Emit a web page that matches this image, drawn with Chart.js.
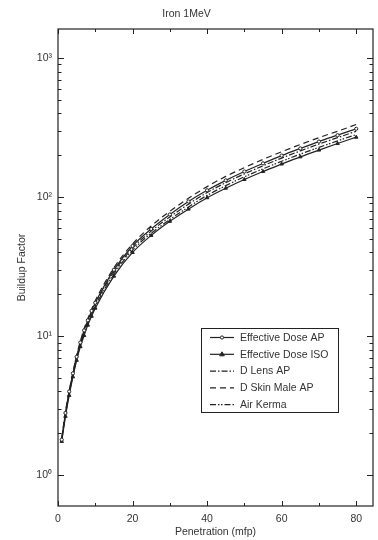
<!DOCTYPE html>
<html>
<head>
<meta charset="UTF-8">
<title>Iron 1MeV</title>
<script src="https://cdn.jsdelivr.net/npm/chart.js"></script>
<style>
  html, body { margin: 0; padding: 0; background: #fff; }
  #wrap { width: 378px; height: 540px; }
</style>
</head>
<body>
<div id="wrap"><canvas id="chart"></canvas></div>
<script>
// penetration depth (mfp)
const penetration = [1, 2, 3, 4, 5, 6, 7, 8, 9, 10, 15, 20, 25, 30, 35, 40, 45, 50, 55, 60, 65, 70, 75, 80];

// buildup factors
const effDoseAP  = [1.8, 2.8, 4.0, 5.4, 7.1, 9.0, 11.0, 13.0, 15.2, 17.4, 30, 44.5, 59, 75, 93, 112, 132, 153, 175, 199, 224, 251, 279, 310];
const effDoseISO = [1.75, 2.65, 3.75, 5.1, 6.7, 8.4, 10.1, 12.0, 13.9, 15.9, 27, 40, 53, 67, 82, 99, 116, 134, 153, 173, 195, 218, 243, 270];
const dLensAP    = [1.8, 2.75, 3.9, 5.3, 7.0, 8.8, 10.7, 12.7, 14.8, 17.0, 29, 43, 57, 72, 89, 108, 127, 147, 168, 191, 215, 241, 268, 298];
const dSkinMale  = [1.85, 2.85, 4.05, 5.5, 7.3, 9.2, 11.3, 13.4, 15.6, 18.0, 31, 46, 62, 79, 98, 119, 141, 163, 187, 212, 239, 268, 298, 333];
const airKerma   = [1.78, 2.7, 3.85, 5.2, 6.85, 8.6, 10.4, 12.3, 14.3, 16.4, 28, 41.5, 55, 69, 85, 103, 121, 140, 160, 181, 204, 228, 254, 282];

// axis ticks
const xTicks = [0, 20, 40, 60, 80];
const xMinorTicks = [10, 30, 50, 70];
const yDecades = [1, 10, 100, 1000];
const supers = { 1: '10\u2070', 10: '10\u00b9', 100: '10\u00b2', 1000: '10\u00b3' };

const ink = '#222';
const textColor = '#333';
const fontFamily = '"Liberation Sans", Arial, sans-serif';

function pts(ys) {
    return penetration.map((x, i) => ({ x: x, y: ys[i] }));
}

// inward ticks on all four sides + frame
const frameTicks = {
    id: 'frameTicks',
    afterDraw(chart) {
        const ctx = chart.ctx;
        const a = chart.chartArea;
        const xs = chart.scales.x, ys = chart.scales.y;
        ctx.save();
        ctx.strokeStyle = ink;
        ctx.lineWidth = 1.2;
        ctx.strokeRect(a.left, a.top, a.right - a.left, a.bottom - a.top);
        ctx.lineWidth = 1;
        ctx.beginPath();
        xTicks.concat(xMinorTicks).forEach(v => {
            const px = Math.round(xs.getPixelForValue(v)) + 0.5;
            const len = xTicks.includes(v) ? 5 : 3;
            ctx.moveTo(px, a.bottom); ctx.lineTo(px, a.bottom - len);
            ctx.moveTo(px, a.top); ctx.lineTo(px, a.top + len);
        });
        yDecades.forEach(d => {
            for (let m = 1; m <= 9; m++) {
                const v = d * m;
                if (v < ys.min || v > ys.max) continue;
                const py = Math.round(ys.getPixelForValue(v)) + 0.5;
                const len = m === 1 ? 6 : 3.5;
                ctx.moveTo(a.left, py); ctx.lineTo(a.left + len, py);
                ctx.moveTo(a.right, py); ctx.lineTo(a.right - len, py);
            }
        });
        ctx.stroke();
        ctx.restore();
    }
};

// boxed legend inside the plot
const boxLegend = {
    id: 'boxLegend',
    afterDraw(chart) {
        const ctx = chart.ctx;
        const x0 = 201, y0 = 328, w = 137, h = 84;
        ctx.save();
        ctx.fillStyle = '#fff';
        ctx.fillRect(x0, y0, w, h);
        ctx.strokeStyle = ink;
        ctx.lineWidth = 1;
        ctx.strokeRect(x0 + 0.5, y0 + 0.5, w, h);
        ctx.font = '10.5px ' + fontFamily;
        ctx.textBaseline = 'middle';
        chart.data.datasets.forEach((ds, i) => {
            const y = y0 + 9.5 + i * 16.8;
            ctx.strokeStyle = ds.borderColor;
            ctx.lineWidth = ds.borderWidth;
            ctx.setLineDash(ds.borderDash || []);
            ctx.beginPath();
            ctx.moveTo(x0 + 9, y);
            ctx.lineTo(x0 + 33, y);
            ctx.stroke();
            ctx.setLineDash([]);
            if (ds.pointRadius > 0) {
                ctx.fillStyle = ds.pointBackgroundColor;
                ctx.lineWidth = 1;
                ctx.beginPath();
                if (ds.pointStyle === 'triangle') {
                    ctx.moveTo(x0 + 21, y - 2.5);
                    ctx.lineTo(x0 + 23.3, y + 1.5);
                    ctx.lineTo(x0 + 18.7, y + 1.5);
                    ctx.closePath();
                } else {
                    ctx.arc(x0 + 21, y, 1.6, 0, Math.PI * 2);
                }
                ctx.fill();
                ctx.stroke();
            }
            ctx.fillStyle = textColor;
            ctx.fillText(ds.label, x0 + 39, y + 0.5);
        });
        ctx.restore();
    }
};

new Chart(document.getElementById('chart'), {
    type: 'line',
    data: {
        datasets: [
            {
                label: 'Effective Dose AP',
                data: pts(effDoseAP),
                borderColor: ink, borderWidth: 1.2,
                pointStyle: 'circle', pointRadius: 1.6,
                pointBackgroundColor: '#fff', pointBorderColor: ink, pointBorderWidth: 1
            },
            {
                label: 'Effective Dose ISO',
                data: pts(effDoseISO),
                borderColor: ink, borderWidth: 1.2,
                pointStyle: 'triangle', pointRadius: 2,
                pointBackgroundColor: ink, pointBorderColor: ink, pointBorderWidth: 1
            },
            {
                label: 'D Lens AP',
                data: pts(dLensAP),
                borderColor: ink, borderWidth: 1.2,
                borderDash: [6, 2, 1.5, 2], pointRadius: 0
            },
            {
                label: 'D Skin Male AP',
                data: pts(dSkinMale),
                borderColor: ink, borderWidth: 1.2,
                borderDash: [6, 4], pointRadius: 0
            },
            {
                label: 'Air Kerma',
                data: pts(airKerma),
                borderColor: ink, borderWidth: 1.2,
                borderDash: [6, 2, 1.5, 1.5, 1.5, 2], pointRadius: 0
            }
        ]
    },
    options: {
        responsive: true,
        maintainAspectRatio: false,
        animation: false,
        cubicInterpolationMode: 'monotone',
        layout: { padding: { top: 0, right: 5, left: 0, bottom: 0 } },
        plugins: {
            legend: { display: false },
            tooltip: { enabled: false },
            title: {
                display: true,
                text: 'Iron 1MeV',
                color: textColor,
                font: { family: fontFamily, size: 10.5, weight: 'normal' },
                padding: { top: 8, bottom: 8.4 }
            }
        },
        scales: {
            x: {
                type: 'linear',
                min: 0, max: 84.5,
                grid: { display: false, drawTicks: false },
                border: { display: false },
                afterBuildTicks: s => { s.ticks = xTicks.map(v => ({ value: v })); },
                afterFit: s => { s.height = 34; },
                ticks: {
                    color: textColor, padding: 7, autoSkip: false, maxRotation: 0,
                    font: { family: fontFamily, size: 10.5 },
                    callback: v => String(v)
                },
                title: {
                    display: true, text: 'Penetration (mfp)', color: textColor,
                    font: { family: fontFamily, size: 10.5 },
                    padding: { top: 0, bottom: 2 }
                }
            },
            y: {
                type: 'logarithmic',
                min: 0.61, max: 1620,
                grid: { display: false, drawTicks: false },
                border: { display: false },
                afterBuildTicks: s => { s.ticks = yDecades.map(v => ({ value: v })); },
                afterFit: s => { s.width = 58; },
                ticks: {
                    color: textColor, padding: 6, autoSkip: false,
                    font: { family: fontFamily, size: 10.5 },
                    callback: v => supers[v] || ''
                },
                title: {
                    display: true, text: 'Buildup Factor', color: textColor,
                    font: { family: fontFamily, size: 10.5 },
                    padding: { top: 16, bottom: 0 }
                }
            }
        }
    },
    plugins: [frameTicks, boxLegend]
});
</script>
</body>
</html>
